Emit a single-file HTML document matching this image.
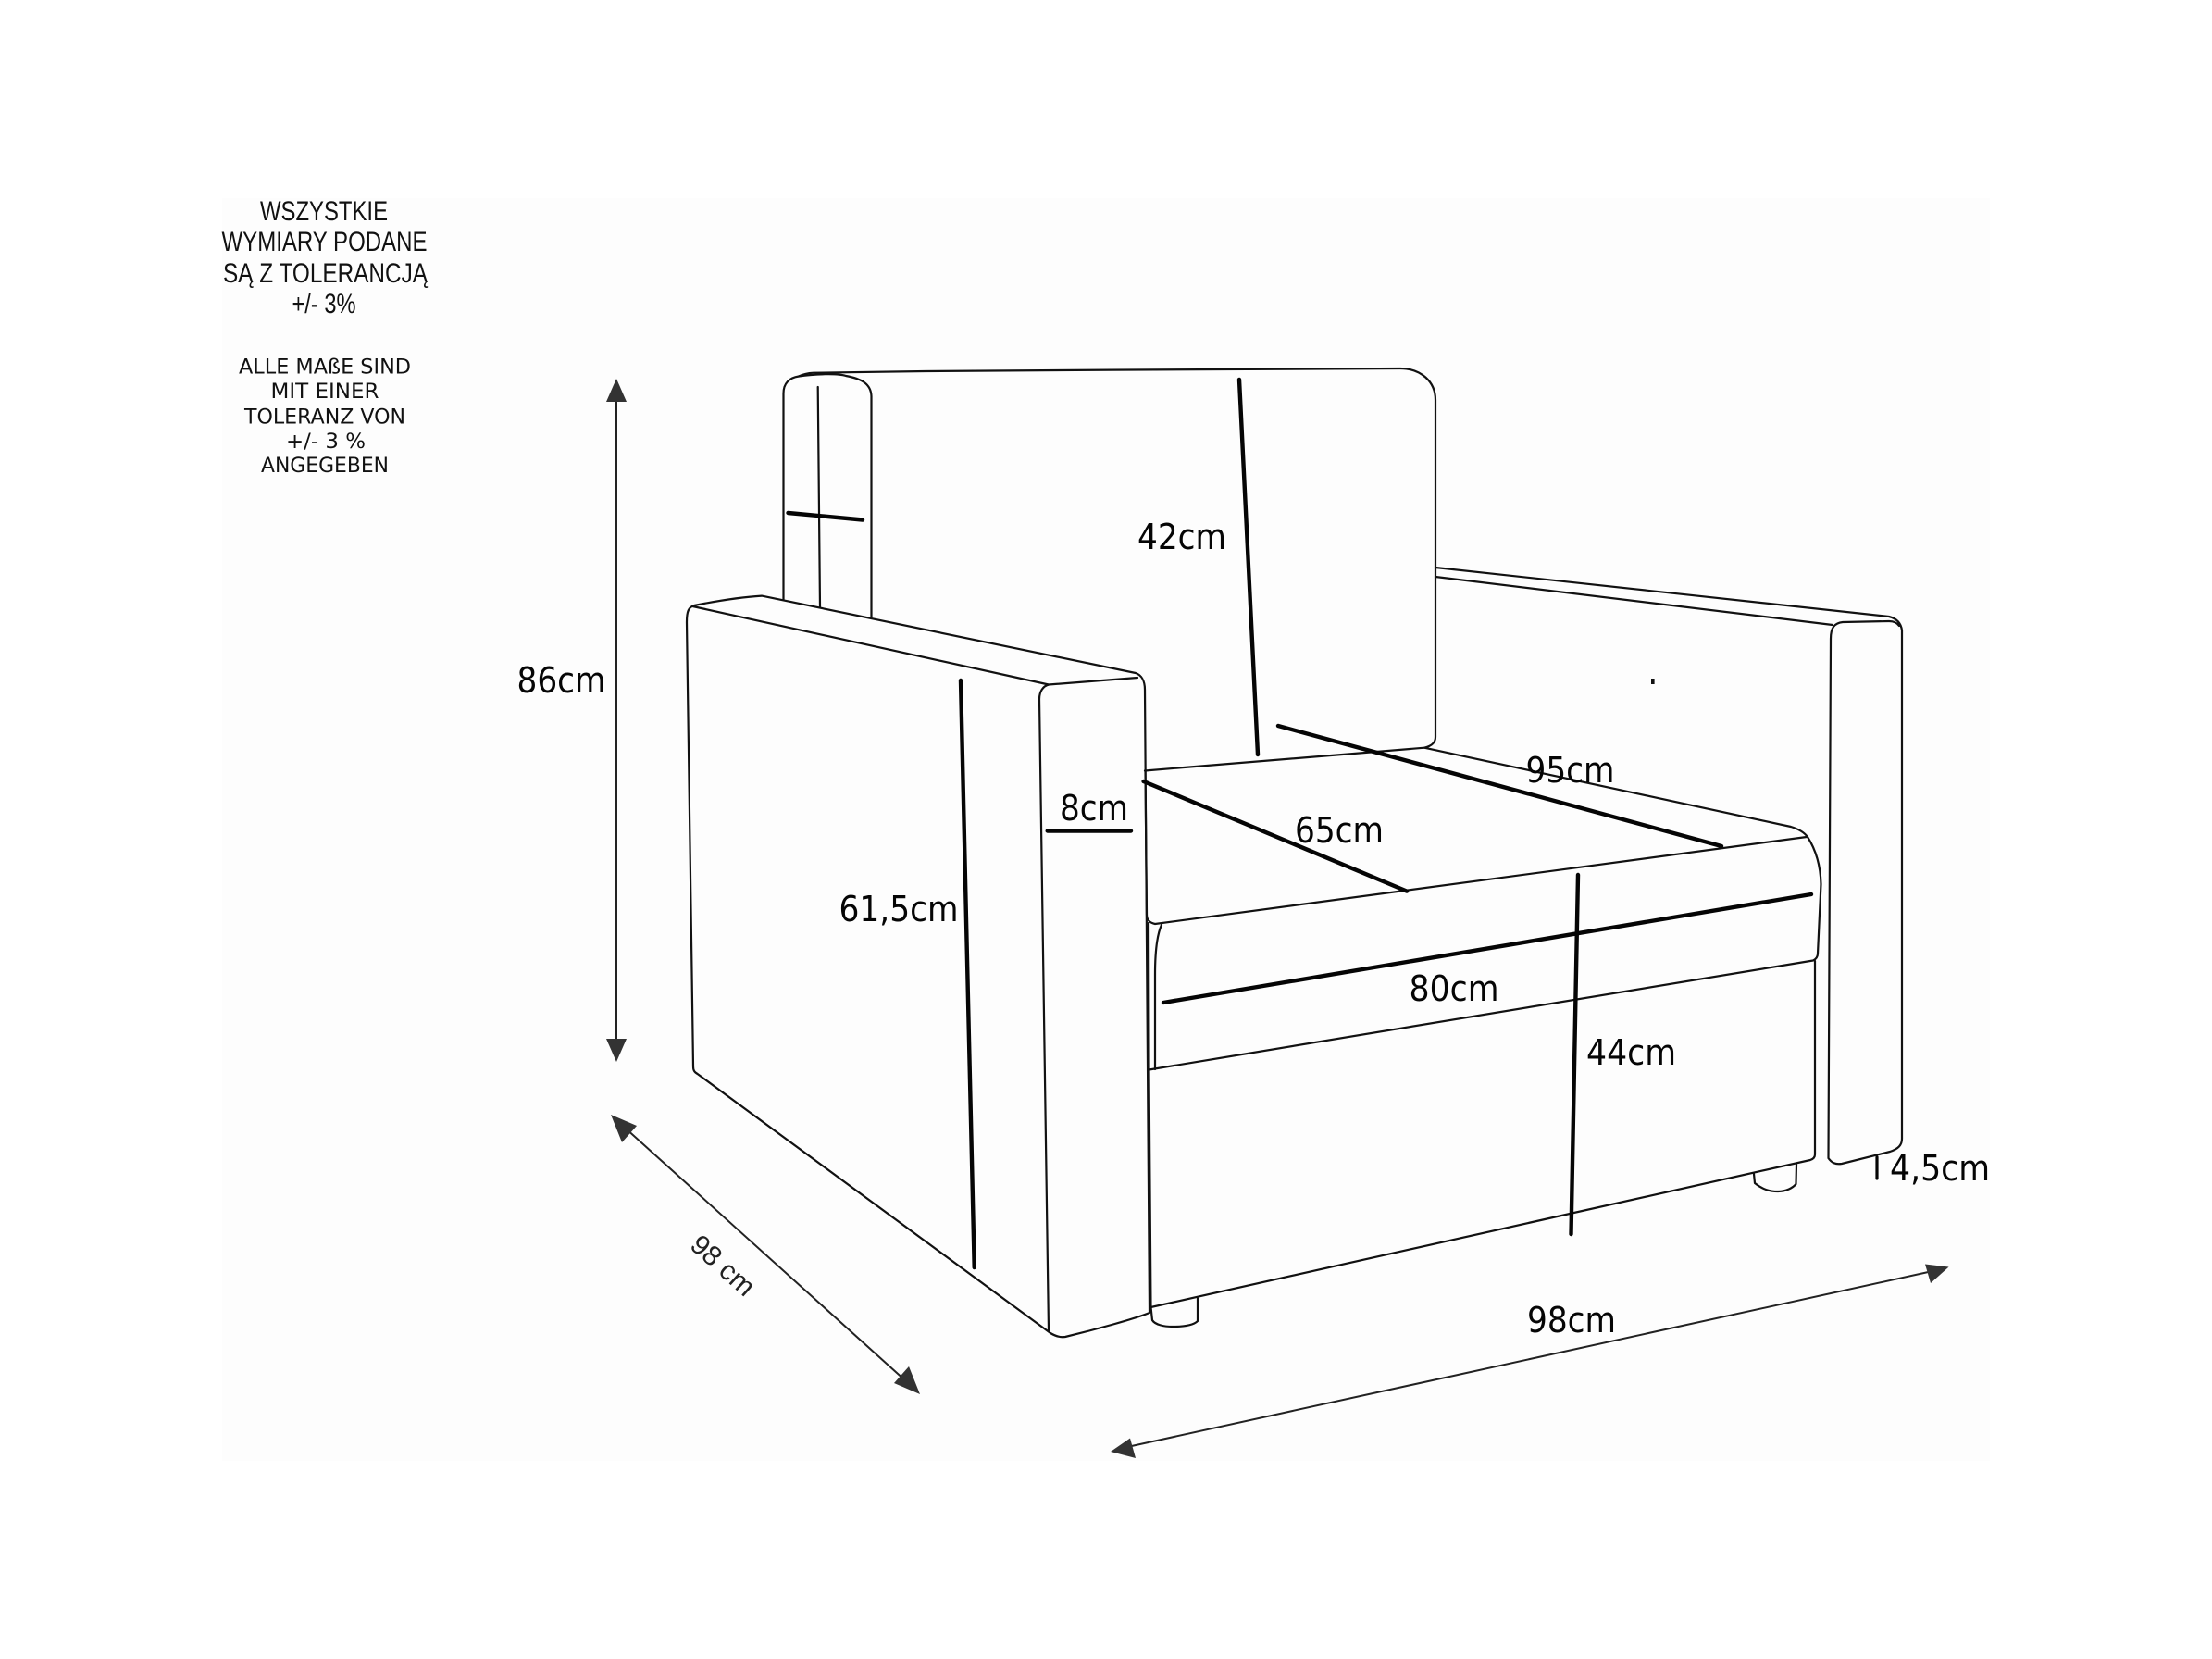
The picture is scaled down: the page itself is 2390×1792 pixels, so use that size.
<!DOCTYPE html>
<html lang="pl">
<head>
<meta charset="utf-8">
<title>Wymiary fotela</title>
<style>
html,body{margin:0;padding:0;background:#fff;width:2390px;height:1792px;overflow:hidden}
svg{display:block}
.ls{font-family:"Liberation Sans",sans-serif;fill:#111}
.dj{font-family:"DejaVu Sans",sans-serif;fill:#111}
.m{font-family:"DejaVu Sans",sans-serif;fill:#050505;font-size:38px}
.o{fill:none;stroke:#111;stroke-width:2.2;stroke-linecap:round;stroke-linejoin:round}
.t{fill:none;stroke:#050505;stroke-width:4.4;stroke-linecap:round}
.a{fill:none;stroke:#222;stroke-width:2}
.h{fill:#333}
</style>
</head>
<body>
<svg width="2390" height="1792" viewBox="0 0 2390 1792" xmlns="http://www.w3.org/2000/svg">
<rect width="2390" height="1792" fill="#fff"/>
<rect x="240" y="214" width="1910" height="1364" fill="#fdfdfd"/>

<!-- tolerance notes -->
<g class="ls" font-size="29.5">
<text x="281" y="238" textLength="138" lengthAdjust="spacingAndGlyphs">WSZYSTKIE</text>
<text x="239.5" y="271" textLength="222" lengthAdjust="spacingAndGlyphs">WYMIARY PODANE</text>
<text x="241" y="305" textLength="221" lengthAdjust="spacingAndGlyphs">SĄ Z TOLERANCJĄ</text>
<text x="315.5" y="338" textLength="69" lengthAdjust="spacingAndGlyphs">+/- 3%</text>
</g>
<g class="dj" font-size="21.8">
<text x="258" y="403.5" textLength="186" lengthAdjust="spacingAndGlyphs">ALLE MAßE SIND</text>
<text x="292.5" y="430" textLength="117" lengthAdjust="spacingAndGlyphs">MIT EINER</text>
<text x="264" y="457.5" textLength="174" lengthAdjust="spacingAndGlyphs">TOLERANZ VON</text>
<text x="309" y="484" textLength="86" lengthAdjust="spacingAndGlyphs">+/- 3 %</text>
<text x="282" y="510" textLength="138" lengthAdjust="spacingAndGlyphs">ANGEGEBEN</text>
</g>

<!-- back pillar -->
<path class="o" d="M846.5 648 L846.5 425 C846.5 414 853 408 863 406.5 C880 404 905 403 914 406 C930 409 941 414 941.5 428 L941.5 667"/>
<path class="o" d="M883.7 418 L886 656"/>
<!-- back cushion -->
<path class="o" d="M863 406.5 C868 404 873 403 879 402.7 L1000 401 L1200 399.6 L1513 398 C1535 398 1551 412 1551 432 L1551 796 C1551 803 1546 806 1539 807.7 L1237 832.5"/>

<!-- left arm -->
<path class="o" d="M742 672 C742 660 744 656 750 654 C770 650 800 645 823 643.6 L1227 727 C1233 729 1237 735 1237 745 L1242 1418 C1225 1425 1180 1437 1151 1444 C1145 1445 1140 1443 1135 1440 L753.6 1160 C750 1158 749 1156 749 1152 L742 672 Z"/>
<path class="o" d="M748.5 655 L1133 739.5 L1229 732"/>
<path class="o" d="M1133 739.5 C1127 741 1123 747 1123 755 L1133 1438"/>

<!-- seat -->
<path class="o" d="M1237.5 832 L1239 988 C1239 994 1243 997 1248 998 L1952 904"/>
<path class="o" d="M1539 807.7 L1935 893 C1945 896 1950 900 1953 904 C1962 918 1967 935 1967.5 955 L1964 1030 C1964 1034 1962 1036 1959 1037.5 L1241.5 1155.5"/>
<path class="o" d="M1255 999 C1250 1010 1248 1030 1248 1053 L1248 1155"/>
<path class="o" d="M1241 997 L1241.5 1155 L1243.5 1412"/>
<path class="o" d="M1243.5 1412 L1956 1253 C1959 1252 1961 1250 1961 1247 L1961 1038"/>
<path class="o" d="M1243.5 1412 L1245 1426 C1248 1431 1258 1433 1267 1433 C1280 1433 1290 1431 1294 1427 L1294 1402.5"/>
<path class="o" d="M1895 1268 L1896 1278 C1905 1285 1912 1287 1921 1287 C1930 1287 1937 1283 1940.5 1279 L1941 1258"/>

<!-- right arm -->
<path class="o" d="M1551 613 L2041 666 C2049 668 2054 673 2055 681 L2055 1230 C2055 1237 2051 1241 2042 1244 L1990 1257 C1983 1258 1979 1256 1975.5 1251 L1978 690 C1978 678 1982 673 1991 672 L2041 671 C2046 671 2050 673 2052 676"/>
<path class="o" d="M1551 623 L1980 675"/>
<rect x="1784" y="733" width="3.6" height="6" fill="#111"/>

<!-- thick dimension lines -->
<path class="t" d="M851.5 554 L932 561.5"/>
<path class="t" d="M1339 410 L1359 815"/>
<path class="t" d="M1038 735 L1052.7 1369"/>
<path class="t" d="M1131.7 897.5 L1222 897.5"/>
<path class="t" d="M1235.6 844 L1520 962.6"/>
<path class="t" d="M1381 784 L1860 914"/>
<path class="t" d="M1257 1083 L1957 966"/>
<path class="t" d="M1705 945 L1697.5 1333"/>
<path class="t" style="stroke-width:3.2" d="M2028 1250 L2028 1273"/>

<!-- dimension arrows -->
<line class="a" x1="666" y1="425" x2="666" y2="1130"/>
<polygon class="h" points="666,409 677,434 655,434"/>
<polygon class="h" points="666,1147 677,1122 655,1122"/>

<line class="a" x1="675" y1="1218" x2="979" y2="1492"/>
<polygon class="h" points="660,1204 688,1216 672,1234"/>
<polygon class="h" points="994,1506 966,1494 982,1476"/>

<line class="a" x1="1218" y1="1563" x2="2088" y2="1373"/>
<polygon class="h" points="1200,1568 1221,1553.5 1227,1575"/>
<polygon class="h" points="2105.6,1368.5 2080,1365.5 2086,1386"/>

<!-- labels -->
<text class="m" x="558.5" y="748" textLength="96" lengthAdjust="spacingAndGlyphs">86cm</text>
<text class="m" x="1229" y="593" textLength="96" lengthAdjust="spacingAndGlyphs">42cm</text>
<text class="m" x="906.5" y="995" textLength="129" lengthAdjust="spacingAndGlyphs">61,5cm</text>
<text class="m" x="1145" y="886" textLength="74" lengthAdjust="spacingAndGlyphs">8cm</text>
<text class="m" x="1399" y="910" textLength="96" lengthAdjust="spacingAndGlyphs">65cm</text>
<text class="m" x="1648.5" y="845" textLength="96" lengthAdjust="spacingAndGlyphs">95cm</text>
<text class="m" x="1522.5" y="1081" textLength="97" lengthAdjust="spacingAndGlyphs">80cm</text>
<text class="m" x="1714" y="1150" textLength="97" lengthAdjust="spacingAndGlyphs">44cm</text>
<text class="m" x="2042" y="1275" textLength="108" lengthAdjust="spacingAndGlyphs">4,5cm</text>
<text class="m" x="1650" y="1439" textLength="96" lengthAdjust="spacingAndGlyphs">98cm</text>
<text class="ls" font-size="30" style="fill:#222" text-anchor="middle" transform="translate(781 1367) rotate(42) translate(0 10)">98 cm</text>
</svg>
</body>
</html>
